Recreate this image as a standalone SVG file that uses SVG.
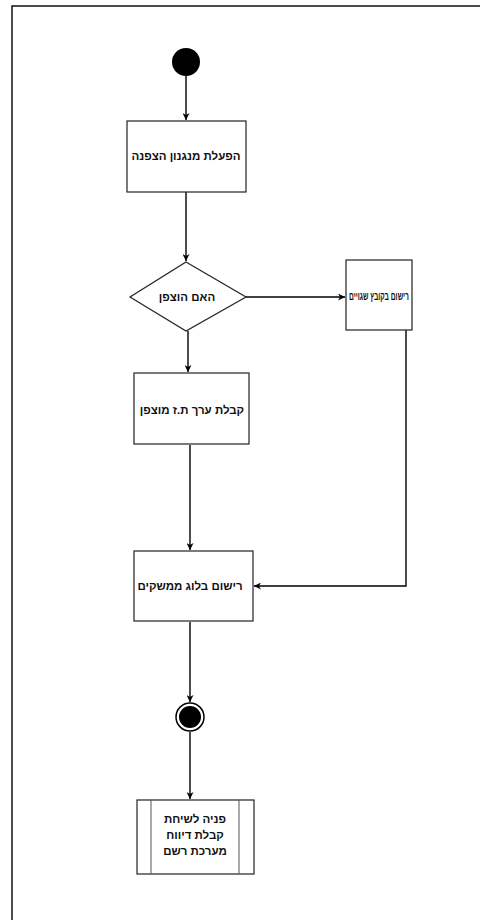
<svg xmlns="http://www.w3.org/2000/svg" width="480" height="920" viewBox="0 0 480 920">
<defs>
<marker id="arr" viewBox="0 0 10 10" refX="10" refY="5" markerWidth="7" markerHeight="7" orient="auto" markerUnits="userSpaceOnUse">
<path d="M0,0 L10,5 L0,10 L3,5 z" fill="#000"/>
</marker>
<style>
.box{fill:#fff;stroke:#222;stroke-width:1.2}
.ln{fill:none;stroke:#000;stroke-width:1.4}
.t{font-family:"Liberation Sans","DejaVu Sans",sans-serif;font-size:11.5px;font-weight:bold;fill:#111;text-anchor:middle;direction:rtl}
</style>
</defs>
<rect width="480" height="920" fill="#fff"/>
<g id="frame">
<path d="M12,920 L12,6 L480,6" fill="none" stroke="#111" stroke-width="1.5"/>
</g>
<g id="connectors">
<line class="ln" x1="186" y1="76" x2="186" y2="120" marker-end="url(#arr)"/>
<line class="ln" x1="186" y1="192" x2="186" y2="261" marker-end="url(#arr)"/>
<line class="ln" x1="246" y1="297" x2="345" y2="297" marker-end="url(#arr)"/>
<line class="ln" x1="188" y1="331" x2="188" y2="372" marker-end="url(#arr)"/>
<line class="ln" x1="190" y1="445" x2="190" y2="550" marker-end="url(#arr)"/>
<polyline class="ln" points="406,330 406,586 254,586" marker-end="url(#arr)"/>
<line class="ln" x1="190" y1="622" x2="190" y2="702" marker-end="url(#arr)"/>
<line class="ln" x1="190" y1="732" x2="190" y2="799" marker-end="url(#arr)"/>
</g>
<g id="start">
<circle cx="186" cy="62" r="14" fill="#000"/>
</g>
<g id="activate">
<rect class="box" x="127" y="121" width="119" height="71"/>
<text class="t" x="186" y="160">הפעלת מנגנון הצפנה</text>
</g>
<g id="decision">
<polygon class="box" points="186,262 246,297 186,331 130,297"/>
<text class="t" x="187" y="301">האם הוצפן</text>
</g>
<g id="errorlog">
<rect class="box" x="346" y="260" width="66" height="70"/>
<text class="t" x="379" y="300" textLength="60" lengthAdjust="spacingAndGlyphs">רישום בקובץ שגויים</text>
</g>
<g id="receive">
<rect class="box" x="134" y="373" width="115" height="71"/>
<text class="t" x="192" y="414">קבלת ערך ת.ז מוצפן</text>
</g>
<g id="interfacelog">
<rect class="box" x="134" y="551" width="119" height="70"/>
<text class="t" x="190" y="590">רישום בלוג ממשקים</text>
</g>
<g id="end">
<circle cx="190" cy="717" r="14" fill="#fff" stroke="#000" stroke-width="1.5"/>
<circle cx="190" cy="717" r="11" fill="#000"/>
</g>
<g id="subprocess">
<rect class="box" x="137" y="800" width="117" height="74"/>
<line x1="151" y1="800" x2="151" y2="874" stroke="#555" stroke-width="1"/>
<line x1="239" y1="800" x2="239" y2="874" stroke="#555" stroke-width="1"/>
<text class="t" x="195" y="823">פניה לשיחת</text>
<text class="t" x="195" y="839">קבלת דיווח</text>
<text class="t" x="195" y="855">מערכת רשם</text>
</g>
</svg>
